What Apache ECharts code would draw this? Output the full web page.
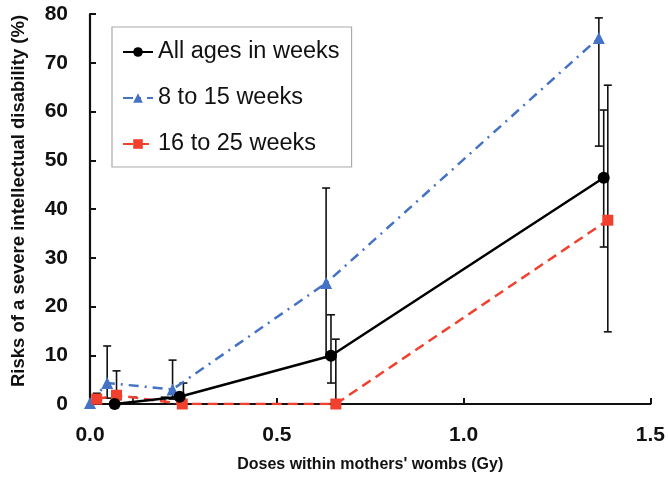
<!DOCTYPE html>
<html>
<head>
<meta charset="utf-8">
<script src="https://cdn.jsdelivr.net/npm/echarts@6/dist/echarts.min.js"></script>
<style>html,body{margin:0;padding:0;background:#fff}#c{width:668px;height:480px}</style>
</head>
<body>
<div id="c"></div>
<script>
// Data (dose in Gy, risk in %)
const seriesNames = ['All ages in weeks', '8 to 15 weeks', '16 to 25 weeks'];
const allAges = [[0.066, 0], [0.24, 1.5], [0.645, 9.9], [1.375, 46.4]];
const weeks8to15 = [[0.0, 0.2], [0.046, 4.3], [0.221, 3.0], [0.632, 24.8], [1.362, 75.1]];
const weeks16to25 = [[0.018, 1.0], [0.071, 1.8], [0.247, 0], [0.658, 0], [1.386, 37.7]];
// error bars: [dose, low, high]
const errAll = [[0.115, 0, 1.4], [0.2, 0, 1.4], [0.25, 0, 4.3], [0.645, 4.3, 18.3], [1.375, 32.2, 60.3]];
const err8to15 = [[0.046, 1.2, 11.9], [0.221, 1.0, 9.0], [0.632, 9.5, 44.3], [1.362, 52.9, 79.2]];
const err16to25 = [[0.018, 0, 2.2], [0.071, 0, 6.8], [0.658, 0, 13.3], [1.386, 14.8, 65.4]];
const xTicks = [0, 0.5, 1.0, 1.5];
const yTicks = [0, 10, 20, 30, 40, 50, 60, 70, 80];

const errorBars = errAll.concat(err8to15, err16to25);

function renderErr(params, api) {
  const x = api.value(0), lo = api.value(1), hi = api.value(2);
  const pLo = api.coord([x, lo]);
  const pHi = api.coord([x, hi]);
  const cap = 4;
  const st = {stroke: '#111', lineWidth: 1.6};
  return {
    type: 'group',
    children: [
      {type: 'line', shape: {x1: pLo[0], y1: pLo[1], x2: pHi[0], y2: pHi[1]}, style: st},
      {type: 'line', shape: {x1: pHi[0] - cap, y1: pHi[1], x2: pHi[0] + cap, y2: pHi[1]}, style: st},
      {type: 'line', shape: {x1: pLo[0] - cap, y1: pLo[1], x2: pLo[0] + cap, y2: pLo[1]}, style: st}
    ]
  };
}

const chart = echarts.init(document.getElementById('c'), null, {renderer: 'canvas'});
const labelFont = {fontFamily: 'Liberation Sans, Arial, sans-serif', fontWeight: 'bold', fontSize: 21, color: '#111'};
chart.setOption({
  animation: false,
  backgroundColor: '#fff',
  grid: {left: 90, right: 13, top: 14, bottom: 76},
  legend: {
    left: 112, top: 27,
    orient: 'vertical',
    data: seriesNames,
    backgroundColor: '#fff',
    borderColor: '#aaa', borderWidth: 1.2,
    padding: [13, 12, 11, 10],
    itemWidth: 30, itemHeight: 12, itemGap: 22,
    textStyle: {fontFamily: 'Liberation Sans, Arial, sans-serif', fontSize: 23.5, color: '#111'}
  },
  xAxis: {
    type: 'value', min: 0, max: 1.5, interval: 0.5,
    name: "Doses within mothers' wombs (Gy)", nameLocation: 'middle', nameGap: 53,
    nameTextStyle: {fontFamily: 'Liberation Sans, Arial, sans-serif', fontWeight: 'bold', fontSize: 16, color: '#111'},
    axisLine: {show: true, lineStyle: {color: '#111', width: 2.2}},
    axisTick: {show: true, inside: true, length: 6, lineStyle: {color: '#111', width: 2}},
    axisLabel: Object.assign({margin: 21, formatter: v => xTicks.includes(v) ? v.toFixed(1) : ''}, labelFont),
    splitLine: {show: false}
  },
  yAxis: {
    type: 'value', min: 0, max: 80, interval: 10,
    name: 'Risks of a severe intellectual disability (%)', nameLocation: 'middle', nameGap: 62,
    nameTextStyle: {fontFamily: 'Liberation Sans, Arial, sans-serif', fontWeight: 'bold', fontSize: 18.5, color: '#111', padding: [0, 0, 0, 16]},
    axisLine: {show: true, lineStyle: {color: '#111', width: 2.2}},
    axisTick: {show: true, inside: true, length: 6, lineStyle: {color: '#111', width: 2}},
    axisLabel: Object.assign({margin: 22, formatter: v => yTicks.includes(v) ? String(v) : ''}, labelFont),
    splitLine: {show: false}
  },
  series: [
    {type: 'custom', name: 'err', renderItem: renderErr, data: errorBars, z: 1, silent: true},
    {
      name: seriesNames[1], type: 'line', data: weeks8to15, z: 3,
      symbol: 'triangle', symbolSize: 12,
      lineStyle: {color: '#4472C4', width: 2.5, type: [10, 6, 2, 6]},
      itemStyle: {color: '#4472C4'}
    },
    {
      name: seriesNames[2], type: 'line', data: weeks16to25, z: 3,
      symbol: 'rect', symbolSize: 11,
      lineStyle: {color: '#F2402E', width: 2.5, type: [10, 6]},
      itemStyle: {color: '#F2402E'}
    },
    {
      name: seriesNames[0], type: 'line', data: allAges, z: 4,
      symbol: 'circle', symbolSize: 12,
      lineStyle: {color: '#000', width: 2.5},
      itemStyle: {color: '#000'}
    }
  ]
});
</script>
</body>
</html>
